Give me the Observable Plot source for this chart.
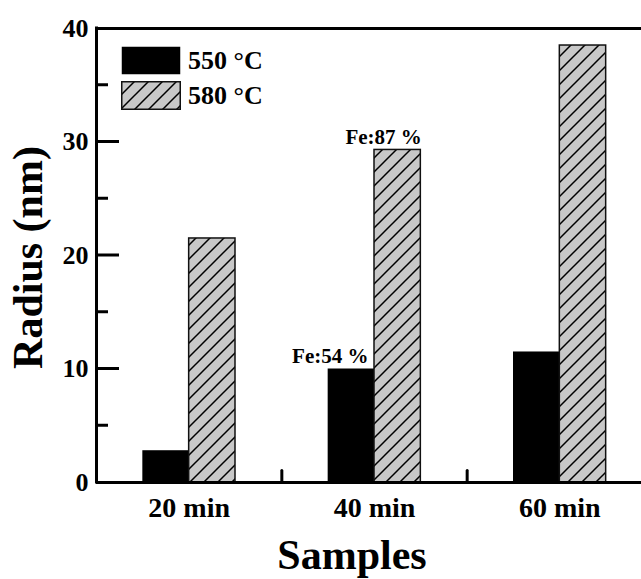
<!DOCTYPE html>
<html>
<head>
<meta charset="utf-8">
<script src="https://cdn.jsdelivr.net/npm/d3@7"></script>
<script src="https://cdn.jsdelivr.net/npm/@observablehq/plot@0.6"></script>
<style>
  html, body { margin: 0; padding: 0; background: #fff; }
  #wrap { position: relative; width: 641px; height: 579px; overflow: hidden; font-family: "Liberation Serif", "Times New Roman", serif; font-weight: bold; }
  #legend { position: absolute; left: 121px; top: 43px; }
  .item { display: flex; align-items: center; height: 35px; }
  .item svg { display: block; margin-right: 7px; }
  .item span { font-size: 26px; line-height: 26px; color: #000; }
</style>
</head>
<body>
<div id="wrap"></div>
<script>
// ---- data ----
const samples = ["20 min", "40 min", "60 min"];
const series = ["550 °C", "580 °C"];
const radius550 = [2.8, 10.0, 11.5];
const radius580 = [21.5, 29.3, 38.5];
const annotations = [
  {sample: "40 min", series: "550 °C", label: "Fe:54 %"},
  {sample: "40 min", series: "580 °C", label: "Fe:87 %"}
];
const yTicksMajor = [0, 10, 20, 30, 40];
const yTicksMinor = [5, 15, 25, 35];
const xLabel = "Samples";
const yLabel = "Radius (nm)";

// ---- layout ----
const W = 641, H = 579, mLeft = 96, mTop = 28, mBottom = 97, mRight = 0;
const xRange = [mLeft, 652];

// ---- build tables ----
const pos = s => samples.indexOf(s) + 1;
const rows550 = samples.map((s, i) => ({sample: s, series: series[0], value: radius550[i]}));
const rows580 = samples.map((s, i) => ({sample: s, series: series[1], value: radius580[i]}));
const valueOf = (s, ser) => (ser === series[0] ? radius550 : radius580)[samples.indexOf(s)];
const halfBar = 0.25;
const xDomain = [0.5, samples.length + 0.5];
const betweenTicks = samples.slice(1).map((s, i) => (pos(samples[i]) + pos(s)) / 2);
const majorInner = yTicksMajor.slice(1, -1);
const font = "Liberation Serif, Times New Roman, serif";
const tickUp = {draw(context, l) { context.moveTo(0, 0); context.lineTo(0, -l); }};

const chart = Plot.plot({
  width: W,
  height: H,
  marginLeft: mLeft,
  marginTop: mTop,
  marginBottom: mBottom,
  marginRight: mRight,
  style: {fontFamily: font, fontWeight: "bold", color: "#000", background: "transparent"},
  x: {type: "linear", domain: xDomain, range: xRange, axis: null},
  y: {domain: [yTicksMajor[0], yTicksMajor[yTicksMajor.length - 1]], axis: null},
  marks: [
    // bars
    Plot.rect(rows550, {x1: d => pos(d.sample) - halfBar, x2: d => pos(d.sample), y1: 0, y2: "value", fill: "#000"}),
    Plot.rect(rows580, {x1: d => pos(d.sample), x2: d => pos(d.sample) + halfBar, y1: 0, y2: "value",
      fill: "url(#hatch)", stroke: "#111", strokeWidth: 1.5}),
    // annotations
    Plot.text(annotations.filter(a => a.series === series[0]), {
      x: d => pos(d.sample), y: d => valueOf(d.sample, d.series), text: "label",
      textAnchor: "end", lineAnchor: "bottom", dx: -6, dy: -6, fontSize: 21, fontWeight: "bold", fontFamily: font, fill: "#000"}),
    Plot.text(annotations.filter(a => a.series === series[1]), {
      x: d => pos(d.sample) + halfBar, y: d => valueOf(d.sample, d.series), text: "label",
      textAnchor: "end", lineAnchor: "bottom", dx: 1, dy: -6, fontSize: 21, fontWeight: "bold", fontFamily: font, fill: "#000"}),
    // axes labels
    Plot.axisY(yTicksMajor, {tickSize: 0, tickPadding: 8, fontSize: 26, fontWeight: "bold", fontFamily: font, label: null, tickFormat: d => String(d)}),
    Plot.axisX(samples.map(pos), {tickSize: 0, tickPadding: 15, fontSize: 28, fontWeight: "bold", fontFamily: font, label: null, tickFormat: d => samples[d - 1]}),
    // titles
    Plot.text([xLabel], {text: d => d, frameAnchor: "bottom", textAnchor: "middle", lineAnchor: "bottom", dy: 86, dx: -17, fontSize: 42, fontWeight: "bold", fontFamily: font, fill: "#000"}),
    Plot.text([yLabel], {text: d => d, frameAnchor: "left", textAnchor: "middle", rotate: -90, lineAnchor: "bottom", dx: -55, dy: 2, fontSize: 42, fontWeight: "bold", fontFamily: font, fill: "#000"}),
    // frame lines (left, bottom, top)
    Plot.ruleY([yTicksMajor[0], yTicksMajor[yTicksMajor.length - 1]], {strokeWidth: 3, stroke: "#000"}),
    Plot.ruleX([xDomain[0]], {strokeWidth: 3, stroke: "#000", strokeLinecap: "square"}),
    Plot.vector(betweenTicks, {x: d => d, frameAnchor: "bottom", length: 12, anchor: "start", shape: tickUp, strokeWidth: 3, stroke: "#000"})
  ]
});

// hatch pattern definition
d3.select(chart).insert("defs", ":first-child").html(`
  <pattern id="hatch" patternUnits="userSpaceOnUse" width="14" height="14">
    <rect width="14" height="14" fill="#c8c8c8"></rect>
    <path d="M-2,2 L2,-2 M0,14 L14,0 M12,16 L16,12" stroke="#000" stroke-width="1.5"></path>
  </pattern>`);

// inward y ticks, positioned through Plot's own scales, appended on top
const xs = chart.scale("x"), ys = chart.scale("y");
const x0 = xs.apply(xDomain[0]);
const tickG = d3.select(chart).append("g").attr("stroke", "#000").attr("stroke-width", 3);
const tickRows = majorInner.map(v => ({v, len: 23})).concat(yTicksMinor.map(v => ({v, len: 12})));
tickG.selectAll("line").data(tickRows).join("line")
  .attr("x1", x0).attr("x2", d => x0 + d.len)
  .attr("y1", d => ys.apply(d.v)).attr("y2", d => ys.apply(d.v));

const wrap = document.getElementById("wrap");
wrap.appendChild(chart);

// legend
const legend = document.createElement("div");
legend.id = "legend";
series.forEach((s, i) => {
  const item = document.createElement("div");
  item.className = "item";
  const fill = i === 0 ? "#000" : "url(#hatch)";
  const stroke = i === 0 ? "none" : "#111";
  item.innerHTML = `<svg width="60" height="29"><rect x="0.75" y="0.75" width="58.5" height="27.5" fill="${fill}" stroke="${stroke}" stroke-width="1.5"></rect></svg><span>${s}</span>`;
  legend.appendChild(item);
});
wrap.appendChild(legend);
</script>
</body>
</html>
